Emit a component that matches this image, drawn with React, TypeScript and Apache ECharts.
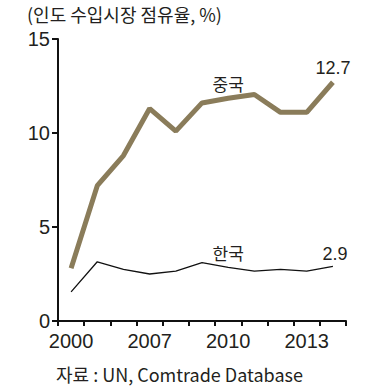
import React, { useEffect, useRef } from "react";
import * as echarts from "echarts";

const years = ["2000", "2003", "2005", "2007", "2008", "2009", "2010", "2011", "2012", "2013", "2014"];
const shownYears = ["2000", "2007", "2010", "2013"];
const china = [2.8, 7.2, 8.8, 11.3, 10.1, 11.6, 11.85, 12.05, 11.1, 11.1, 12.7];
const korea = [1.55, 3.15, 2.75, 2.5, 2.65, 3.1, 2.85, 2.65, 2.75, 2.65, 2.9];
const chinaName = "중국";
const koreaName = "한국";
const titleText = "(인도 수입시장 점유율, %)";
const sourceText = "자료 : UN, Comtrade Database";

const TXT = "#231f20";
const NUMFONT = "'Liberation Sans', sans-serif";
const KRFONT = "'Noto Sans CJK KR', sans-serif";

export default function App() {
  const ref = useRef<HTMLDivElement>(null);
  useEffect(() => {
    if (!ref.current) return;
    const chart = echarts.init(ref.current, undefined, { renderer: "svg" });
    const last = years.length - 1;
    const nameIdx = 6;
    const chinaData = china.map((v, i) => {
      if (i === nameIdx)
        return {
          value: v,
          label: { show: true, position: "top", distance: 6, formatter: chinaName, fontFamily: KRFONT, fontSize: 17, color: TXT },
        };
      if (i === last)
        return {
          value: v,
          label: { show: true, position: "top", distance: 5, formatter: "{c}", fontFamily: NUMFONT, fontSize: 18, color: TXT },
        };
      return v;
    });
    const koreaData = korea.map((v, i) => {
      if (i === nameIdx)
        return {
          value: v,
          label: { show: true, position: "top", distance: 6, formatter: koreaName, fontFamily: KRFONT, fontSize: 17, color: TXT },
        };
      if (i === last)
        return {
          value: v,
          label: { show: true, position: "top", distance: 3, offset: [2, 0], formatter: "{c}", fontFamily: NUMFONT, fontSize: 18, color: TXT },
        };
      return v;
    });
    chart.setOption({
      animation: false,
      backgroundColor: "#ffffff",
      title: [
        {
          text: titleText,
          left: 27,
          top: 4,
          padding: 0,
          textStyle: { fontFamily: KRFONT, fontSize: 18, lineHeight: 20, fontWeight: "normal", color: TXT },
        },
        {
          text: sourceText,
          left: 56,
          top: 364,
          padding: 0,
          textStyle: { fontFamily: KRFONT, fontSize: 18, lineHeight: 20, fontWeight: "normal", color: TXT },
        },
      ],
      grid: { left: 58, right: 42, top: 39, bottom: 66, containLabel: false },
      xAxis: {
        type: "category",
        data: years,
        boundaryGap: true,
        axisLine: { lineStyle: { color: "#111", width: 2 } },
        axisTick: { show: true, interval: 0, length: 5, lineStyle: { color: "#111", width: 2 } },
        axisLabel: {
          interval: 0,
          margin: 10,
          formatter: (v: string) => (shownYears.includes(v) ? v : ""),
          fontFamily: NUMFONT,
          fontSize: 20,
          color: TXT,
        },
      },
      yAxis: {
        type: "value",
        min: 0,
        max: 15,
        interval: 5,
        splitLine: { show: false },
        axisLine: { show: true, lineStyle: { color: "#111", width: 2 } },
        axisTick: { show: true, length: 6, lineStyle: { color: "#111", width: 2 } },
        axisLabel: { margin: 8, fontFamily: NUMFONT, fontSize: 20, color: TXT },
      },
      series: [
        {
          type: "line",
          data: chinaData,
          symbol: "circle",
          symbolSize: 0.1,
          showSymbol: true,
          lineStyle: { color: "#8a7c5a", width: 5 },
          itemStyle: { color: "#8a7c5a" },
          z: 3,
        },
        {
          type: "line",
          data: koreaData,
          symbol: "circle",
          symbolSize: 0.1,
          showSymbol: true,
          lineStyle: { color: "#111", width: 1.3 },
          itemStyle: { color: "#111" },
          z: 2,
        },
      ],
    });
    return () => chart.dispose();
  }, []);
  return <div ref={ref} style={{ position: "fixed", left: 0, top: 0, width: 388, height: 387 }} />;
}
